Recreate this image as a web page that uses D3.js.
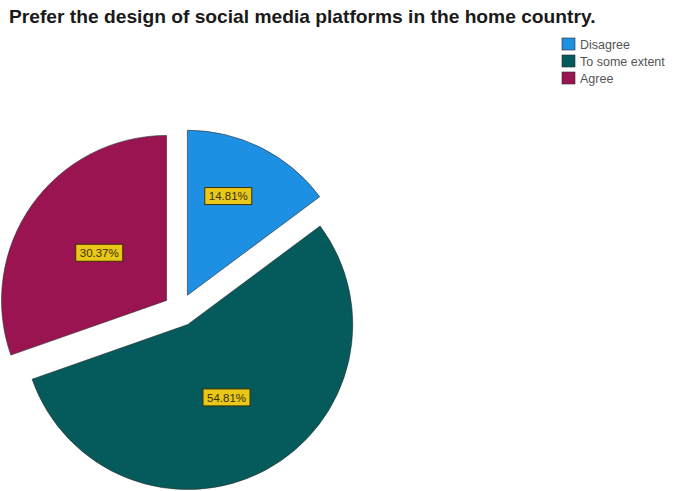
<!DOCTYPE html>
<html>
<head>
<meta charset="utf-8">
<script src="https://cdn.jsdelivr.net/npm/d3@7"></script>
<style>
  html, body { margin: 0; padding: 0; background: #ffffff; }
  svg { display: block; }
</style>
</head>
<body>
<svg id="chart" width="691" height="491"></svg>
<script>
// Survey responses
const categories = ["Disagree", "To some extent", "Agree"];
const percents = [14.81, 54.81, 30.37];
const colors = ["#1e90e4", "#055b5c", "#9a1452"];
const title = "Prefer the design of social media platforms in the home country.";

const width = 691, height = 491;
const svg = d3.select("#chart");

// Title, scaled to its measured width
const titleText = svg.append("text")
  .attr("x", 9)
  .attr("y", 23)
  .attr("font-family", "Liberation Sans, Arial, sans-serif")
  .attr("font-weight", "bold")
  .attr("font-size", 15)
  .attr("fill", "#1a1a1a")
  .text(title);
const tw = titleText.node().getComputedTextLength();
titleText.attr("font-size", 15 * 587 / tw);

// Pie geometry
const cx = 180, cy = 310, radius = 165, explode = 16.5;

const pie = d3.pie().sort(null).value(d => d.value);
const arcs = pie(categories.map((c, i) => ({ name: c, value: percents[i], color: colors[i] })));
const arc = d3.arc().innerRadius(0).outerRadius(radius);

const g = svg.append("g").attr("transform", `translate(${cx},${cy})`);

const slices = g.selectAll("g.slice")
  .data(arcs)
  .join("g")
  .attr("class", "slice")
  .attr("transform", d => {
    const a = (d.startAngle + d.endAngle) / 2;
    return `translate(${explode * Math.sin(a)},${-explode * Math.cos(a)})`;
  });

slices.append("path")
  .attr("d", arc)
  .attr("fill", d => d.data.color)
  .attr("stroke", "#2b2b2b")
  .attr("stroke-width", 0.6);

// Value labels in yellow boxes
slices.each(function (d) {
  const frac = (d.endAngle - d.startAngle) / (2 * Math.PI);
  const narrow = frac < 0.2;
  const a = narrow ? d.startAngle + (d.endAngle - d.startAngle) * 0.42 : (d.startAngle + d.endAngle) / 2;
  const r = narrow ? radius * 0.65 : radius * 0.5;
  const x = r * Math.sin(a), y = -r * Math.cos(a);
  const lg = d3.select(this).append("g").attr("transform", `translate(${x},${y})`);
  const label = d3.format(".2f")(d.data.value) + "%";
  const t = lg.append("text")
    .attr("text-anchor", "middle")
    .attr("dy", "0.36em")
    .attr("font-family", "Liberation Sans, Arial, sans-serif")
    .attr("font-size", 11.5)
    .attr("fill", "#3a3000")
    .text(label);
  const bb = t.node().getBBox();
  lg.insert("rect", "text")
    .attr("x", bb.x - 4)
    .attr("y", -8.5)
    .attr("width", bb.width + 8)
    .attr("height", 17)
    .attr("fill", "#e9c81a")
    .attr("stroke", "#3a3000")
    .attr("stroke-width", 1);
});

// Legend
const legend = svg.append("g").attr("transform", "translate(562,38)");
const rows = legend.selectAll("g")
  .data(categories)
  .join("g")
  .attr("transform", (d, i) => `translate(0,${i * 17})`);
rows.append("rect")
  .attr("width", 13)
  .attr("height", 12)
  .attr("fill", (d, i) => colors[i])
  .attr("stroke", "#2b2b2b")
  .attr("stroke-width", 0.6);
rows.append("text")
  .attr("x", 18)
  .attr("y", 10.5)
  .attr("font-family", "Liberation Sans, Arial, sans-serif")
  .attr("font-size", 12.5)
  .attr("fill", "#555555")
  .text(d => d);
</script>
</body>
</html>
